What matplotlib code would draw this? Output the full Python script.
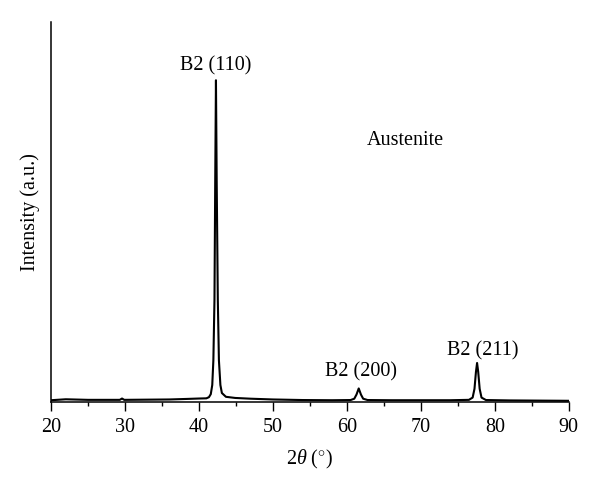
import matplotlib
matplotlib.use('Agg')
import numpy as np
from matplotlib import pyplot as plt
from matplotlib.ticker import MultipleLocator

plt.rcParams['font.family'] = ['Liberation Serif', 'DejaVu Serif']
plt.rcParams['mathtext.fontset'] = 'custom'
plt.rcParams['mathtext.it'] = 'Liberation Serif:italic'
plt.rcParams['mathtext.rm'] = 'Liberation Serif'

# XRD pattern (2theta in degrees, intensity a.u.)
two_theta = [20.0, 22.0, 25.0, 29.3, 29.6, 29.9, 33.0, 36.0, 38.5, 40.0, 41.0,
             41.35, 41.6, 41.8, 41.95, 42.1, 42.2, 42.3, 42.4, 42.55, 42.7,
             42.9, 43.1, 43.65, 44.9, 47.0, 50.0, 54.0, 58.0, 60.5, 61.0,
             61.3, 61.6, 61.9, 62.2, 62.8, 66.0, 70.0, 74.0, 76.5, 77.0,
             77.25, 77.45, 77.6, 77.75, 77.95, 78.2, 78.8, 82.0, 86.0, 90.0]
intensity = [0.5, 0.75, 0.6, 0.6, 0.95, 0.6, 0.65, 0.7, 0.85, 0.95, 1.0,
             1.3, 2.1, 4.5, 11.0, 27.0, 58.0, 84.7, 58.0, 27.0, 11.0,
             4.5, 2.4, 1.4, 1.1, 0.9, 0.7, 0.55, 0.5, 0.55, 0.9,
             2.0, 3.6, 2.0, 0.9, 0.55, 0.5, 0.5, 0.5, 0.6, 1.2,
             3.5, 8.0, 10.3, 8.0, 3.5, 1.2, 0.55, 0.45, 0.4, 0.35]

peak_labels = ['B2 (110)', 'B2 (200)', 'B2 (211)', 'Austenite']
label_x = [42.3, 61.95, 78.4, 67.95]
label_y = [88.4, 7.9, 13.4, 68.9]

fig = plt.figure(figsize=(6.0, 4.91), dpi=100)
ax = fig.add_axes([0.085, 0.181, 0.863, 0.774])
ax.plot(two_theta, intensity, 'k-', lw=1.5)

for t, x, y in zip(peak_labels, label_x, label_y):
    ax.text(x, y, t, ha='center', va='center', fontsize=14.5)

ax.set_xlim(20, 90)
ax.set_ylim(0, 100)
ax.xaxis.set_major_locator(MultipleLocator(10))
ax.xaxis.set_minor_locator(MultipleLocator(5))
ax.tick_params(axis='x', which='major', direction='out', length=6.5, width=1.0,
               labelsize=14.5, pad=5)
ax.tick_params(axis='x', which='minor', direction='out', length=3, width=1.0)
ax.set_yticks([])
ax.spines['top'].set_visible(False)
ax.spines['right'].set_visible(False)
ax.spines['left'].set_linewidth(1.1)
ax.spines['bottom'].set_linewidth(1.1)

ax.set_xlabel(r'2$\it{\theta}$ ($^{\circ}$)', fontsize=14.5, labelpad=8)
ax.set_ylabel('Intensity (a.u.)', fontsize=14.5, labelpad=8)

fig.savefig('out.png', dpi=100)
